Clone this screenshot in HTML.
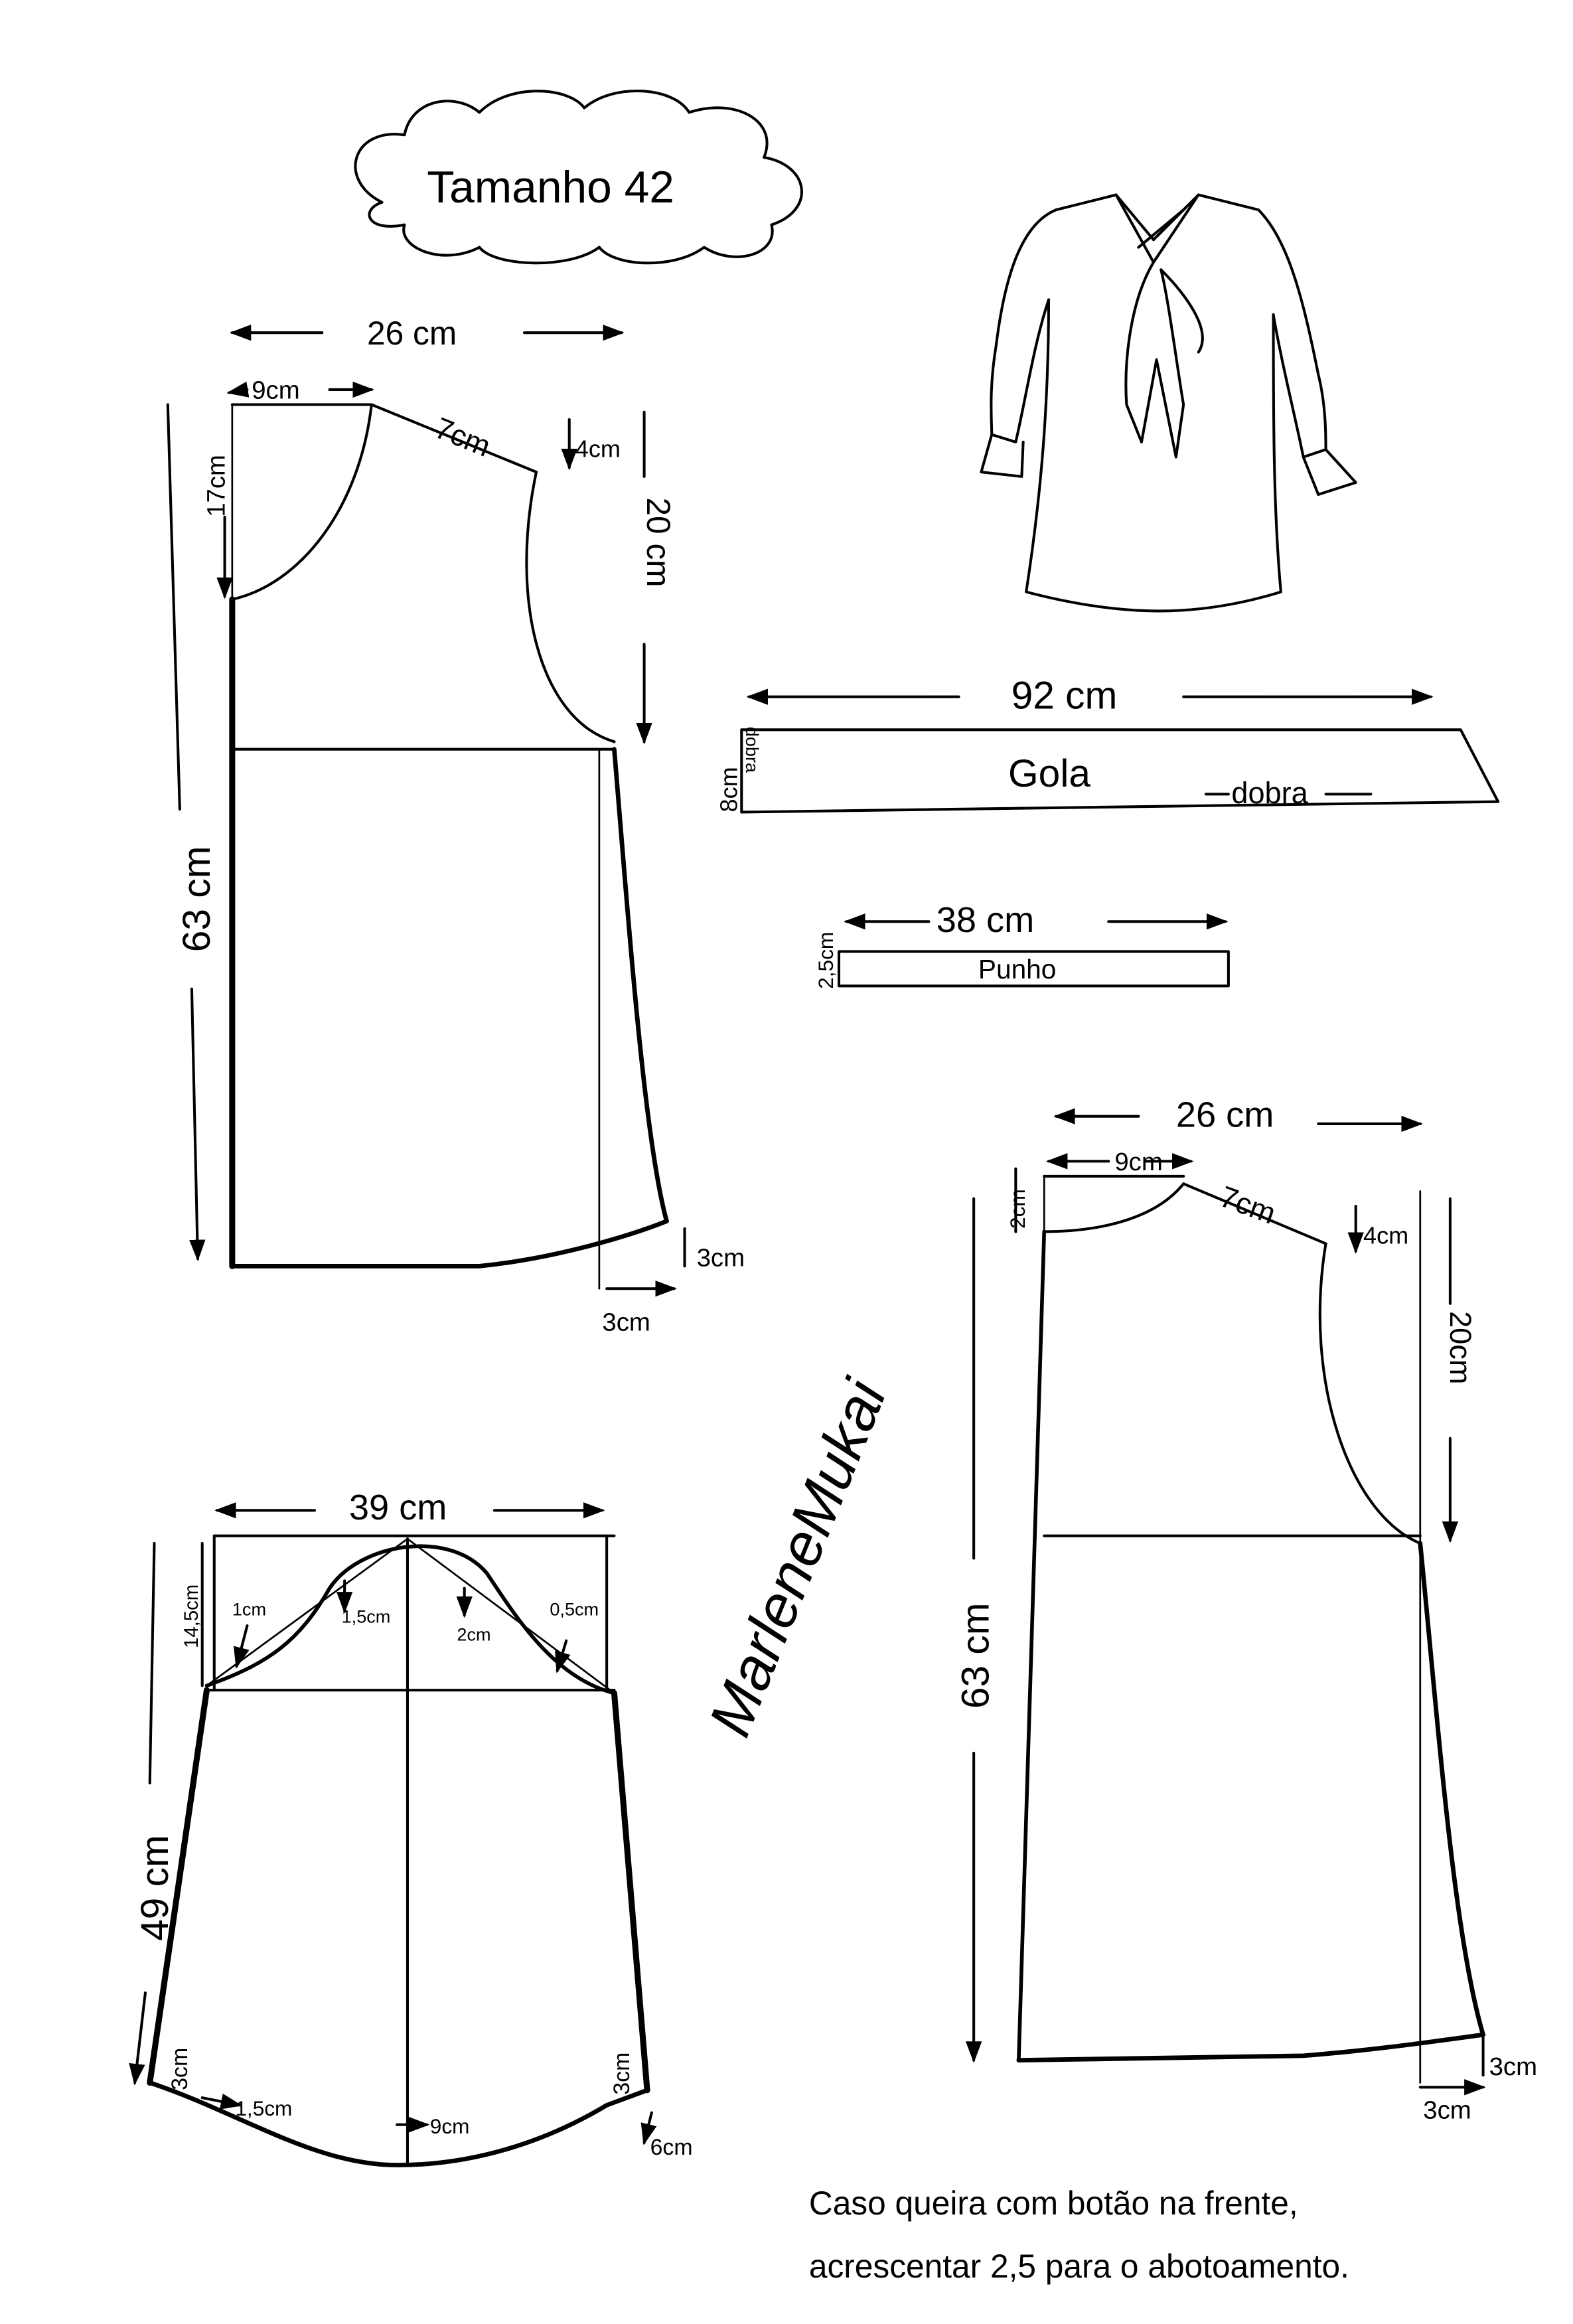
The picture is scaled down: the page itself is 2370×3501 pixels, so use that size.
<!DOCTYPE html>
<html><head><meta charset="utf-8"><style>
html,body{margin:0;padding:0;background:#fff;}
svg{display:block;}
text{font-family:"Liberation Sans",sans-serif;fill:#000;}
</style></head><body>
<svg width="2370" height="3501" viewBox="0 0 1050 1551" xmlns="http://www.w3.org/2000/svg">
<defs><marker id="a" markerWidth="8" markerHeight="8" refX="7" refY="4" orient="auto"><path d="M0,1 L8,4 L0,7 Z" fill="#000"/></marker></defs>
<g fill="none" stroke="#000" stroke-width="1.8" stroke-linecap="round" stroke-linejoin="round">
<path d="M255,135 C225,120 235,85 270,90 C275,65 305,62 320,75 C340,55 380,58 390,72 C410,55 450,58 460,75 C490,65 520,80 510,105 C540,110 545,140 515,150 C520,170 490,178 470,165 C450,180 410,178 400,165 C380,180 330,178 320,165 C295,178 265,165 270,150 C245,155 240,140 255,135 Z"/>
<path d="M155,270 L248,270"/>
<path d="M248,270 C240,340 200,390 155,400"/>
<path d="M248,270 L358,315"/>
<path d="M358,315 C340,400 360,480 410,495"/>
<path d="M155,500 L410,500"/>
<path d="M400,500 L400,860" stroke-width="1.2"/>
<path d="M155,270 L155,400" stroke-width="1.2"/>
<path d="M155,400 L155,845" stroke-width="4"/>
<path d="M410,500 C420,620 430,760 445,815" stroke-width="3"/>
<path d="M155,845 L320,845 C370,840 420,825 445,815" stroke-width="3"/>
<path d="M215,222 L155,222" marker-end="url(#a)"/><path d="M350,222 L415,222" marker-end="url(#a)"/>
<path d="M220,260 L248,260" marker-end="url(#a)"/><path d="M165,260 L153,262" marker-end="url(#a)"/>
<path d="M380,280 L380,312" marker-end="url(#a)"/>
<path d="M430,275 L430,318"/><path d="M430,430 L430,495" marker-end="url(#a)"/>
<path d="M150,345 L150,398" marker-end="url(#a)"/>
<path d="M112,270 L120,540"/><path d="M128,660 L132,840" marker-end="url(#a)"/>
<path d="M457,820 L457,845"/>
<path d="M405,860 L450,860" marker-end="url(#a)"/>
<path d="M705,140 C680,150 670,190 665,230 C660,260 662,280 662,290 L678,295 C685,265 690,230 700,200"/>
<path d="M662,290 L655,315 L682,318 L683,295"/>
<path d="M705,140 L745,130 L770,160 L800,130 L840,140 C860,160 870,200 880,250 C885,270 885,290 885,300 L870,305 C865,280 855,240 850,210"/>
<path d="M885,300 L905,322 L880,330 L870,305"/>
<path d="M700,200 C700,270 695,330 685,395 C750,412 800,412 855,395 C850,340 850,280 850,210"/>
<path d="M745,130 L770,175 L800,130 M760,165 L790,140 M770,175 C755,200 750,240 752,270 L762,295 L772,240 L785,305 L790,270 C785,240 780,200 775,180 M775,180 C790,195 810,220 800,235"/>
<path d="M495,487 L975,487 L1000,535 L495,542 Z"/>
<path d="M640,465 L500,465" marker-end="url(#a)"/><path d="M790,465 L955,465" marker-end="url(#a)"/>
<path d="M805,530 L820,530 M885,530 L915,530"/>
<path d="M560,635 L820,635 L820,658 L560,658 Z"/>
<path d="M620,615 L565,615" marker-end="url(#a)"/><path d="M740,615 L818,615" marker-end="url(#a)"/>
<path d="M697,785 L790,785"/>
<path d="M790,790 C770,815 730,822 697,822"/>
<path d="M790,790 L885,830"/>
<path d="M885,830 C870,920 900,1010 948,1030"/>
<path d="M697,1025 L948,1025"/>
<path d="M948,795 L948,1390" stroke-width="1.2"/>
<path d="M697,785 L697,822" stroke-width="1.2"/>
<path d="M697,822 L680,1375" stroke-width="2.5"/>
<path d="M948,1030 C960,1150 970,1290 990,1358" stroke-width="3"/>
<path d="M680,1375 L870,1372 C920,1368 960,1362 990,1358" stroke-width="3"/>
<path d="M760,745 L705,745" marker-end="url(#a)"/><path d="M880,750 L948,750" marker-end="url(#a)"/>
<path d="M740,775 L700,775" marker-end="url(#a)"/><path d="M765,775 L795,775" marker-end="url(#a)"/>
<path d="M905,805 L905,835" marker-end="url(#a)"/>
<path d="M968,800 L968,870"/><path d="M968,960 L968,1028" marker-end="url(#a)"/>
<path d="M650,800 L650,1040"/><path d="M650,1170 L650,1375" marker-end="url(#a)"/>
<path d="M990,1360 L990,1385"/>
<path d="M948,1393 L990,1393" marker-end="url(#a)"/>
<path d="M678,780 L678,822"/>
<path d="M143,1025 L410,1025"/>
<path d="M138,1128 L410,1128"/>
<path d="M138,1125 L272,1027 L410,1130" stroke-width="1.2"/>
<path d="M138,1125 C180,1110 200,1095 220,1060 C240,1030 300,1020 325,1050 C345,1080 370,1120 410,1130" stroke-width="2.5"/>
<path d="M272,1027 L272,1445"/>
<path d="M143,1025 L143,1128"/><path d="M405,1025 L405,1128"/>
<path d="M138,1128 L100,1390" stroke-width="4"/>
<path d="M410,1130 L432,1395" stroke-width="4"/>
<path d="M100,1390 C160,1410 210,1445 265,1445 C330,1445 380,1420 405,1405 L432,1395" stroke-width="3"/>
<path d="M210,1008 L145,1008" marker-end="url(#a)"/><path d="M330,1008 L402,1008" marker-end="url(#a)"/>
<path d="M103,1030 L100,1190"/><path d="M97,1330 L90,1390" marker-end="url(#a)"/>
<path d="M135,1030 L135,1125"/>
<path d="M165,1085 L158,1112" marker-end="url(#a)"/>
<path d="M230,1055 L230,1075" marker-end="url(#a)"/>
<path d="M310,1060 L310,1078" marker-end="url(#a)"/>
<path d="M378,1095 L372,1115" marker-end="url(#a)"/>
<path d="M135,1400 L160,1405" marker-end="url(#a)"/>
<path d="M265,1418 L285,1418" marker-end="url(#a)"/>
<path d="M435,1410 L430,1430" marker-end="url(#a)"/>
</g>
<g font-size="22">
<text x="285" y="135" font-size="30">Tamanho 42</text>
<text x="245" y="230">26 cm</text>
<text x="168" y="266" font-size="17">9cm</text>
<text x="290" y="295" font-size="20" transform="rotate(22 300 290)">7cm</text>
<text x="384" y="305" font-size="16">4cm</text>
<text x="150" y="345" font-size="17" transform="rotate(-90 150 345)">17cm</text>
<text x="432" y="332" font-size="22" transform="rotate(90 432 332)">20 cm</text>
<text x="140" y="600" font-size="26" text-anchor="middle" transform="rotate(-90 140 600)">63 cm</text>
<text x="465" y="845" font-size="17">3cm</text>
<text x="402" y="888" font-size="17">3cm</text>
<text x="675" y="473" font-size="26">92 cm</text>
<text x="673" y="525" font-size="26">Gola</text>
<text x="822" y="536" font-size="20">dobra</text>
<text x="492" y="542" font-size="16" transform="rotate(-90 492 542)">8cm</text>
<text x="498" y="485" font-size="12" transform="rotate(90 498 485)">dobra</text>
<text x="625" y="622" font-size="24">38 cm</text>
<text x="653" y="653" font-size="18">Punho</text>
<text x="556" y="660" font-size="14" transform="rotate(-90 556 660)">2,5cm</text>
<text x="785" y="752" font-size="24">26 cm</text>
<text x="744" y="781" font-size="17">9cm</text>
<text x="815" y="808" font-size="20" transform="rotate(20 825 800)">7cm</text>
<text x="910" y="830" font-size="16">4cm</text>
<text x="684" y="820" font-size="14" transform="rotate(-90 684 820)">2cm</text>
<text x="968" y="875" font-size="20" transform="rotate(90 968 875)">20cm</text>
<text x="660" y="1105" font-size="26" text-anchor="middle" transform="rotate(-90 660 1105)">63 cm</text>
<text x="994" y="1385" font-size="17">3cm</text>
<text x="950" y="1414" font-size="17">3cm</text>
<text x="233" y="1014" font-size="24">39 cm</text>
<text x="112" y="1260" font-size="26" text-anchor="middle" transform="rotate(-90 112 1260)">49 cm</text>
<text x="132" y="1100" font-size="13" transform="rotate(-90 132 1100)">14,5cm</text>
<text x="155" y="1078" font-size="12">1cm</text>
<text x="228" y="1083" font-size="12">1,5cm</text>
<text x="305" y="1095" font-size="12">2cm</text>
<text x="367" y="1078" font-size="12">0,5cm</text>
<text x="125" y="1395" font-size="15" transform="rotate(-90 125 1395)">3cm</text>
<text x="420" y="1398" font-size="15" transform="rotate(-90 420 1398)">3cm</text>
<text x="157" y="1412" font-size="14">1,5cm</text>
<text x="287" y="1424" font-size="14">9cm</text>
<text x="434" y="1438" font-size="15">6cm</text>
<text x="545" y="1045" font-size="40" font-style="italic" font-family="Liberation Serif,serif" text-anchor="middle" transform="rotate(-68 545 1045)">MarleneMukai</text>
<text x="540" y="1478" font-size="22">Caso queira  com botão na frente,</text>
<text x="540" y="1520" font-size="22">acrescentar 2,5 para o abotoamento.</text>
</g>
</svg>
</body></html>
